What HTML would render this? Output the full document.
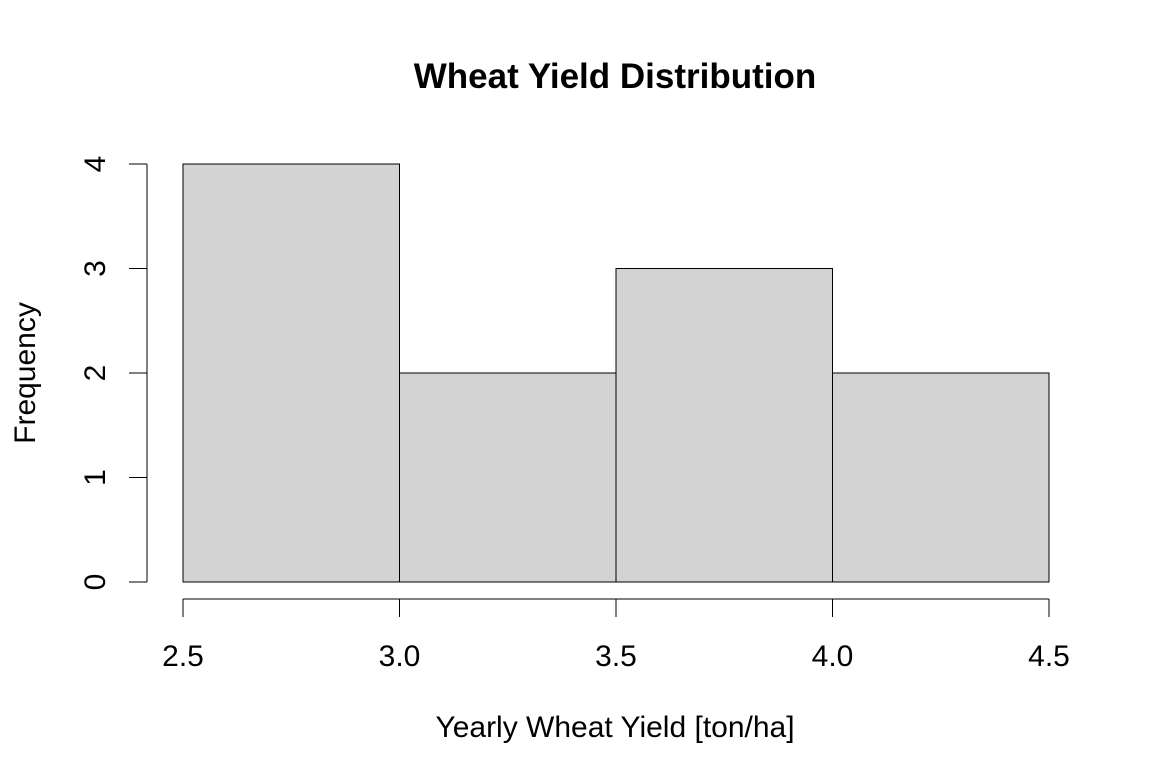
<!DOCTYPE html>
<html><head><meta charset="utf-8"><style>
html,body{margin:0;padding:0;background:#fff;}
svg{display:block;font-family:"Liberation Sans",Arial,sans-serif;}
</style></head><body>
<svg id="chart" width="1160" height="783" viewBox="0 0 1160 783">
<text x="615" y="88" text-anchor="middle" font-size="35" font-weight="bold">Wheat Yield Distribution</text>
<text x="615" y="737" text-anchor="middle" font-size="30">Yearly Wheat Yield [ton/ha]</text>
<text transform="translate(35,373) rotate(-90)" text-anchor="middle" font-size="30">Frequency</text>
<g id="bars"></g><g id="xaxis"></g><g id="yaxis"></g>
</svg>
<script>
const binEdges=[2.5,3.0,3.5,4.0,4.5];
const counts=[4,2,3,2];
const xTicks=[2.5,3.0,3.5,4.0,4.5];
const xTickLabels=["2.5","3.0","3.5","4.0","4.5"];
const yTicks=[0,1,2,3,4];
const yTickLabels=["0","1","2","3","4"];
const NS="http://www.w3.org/2000/svg";
function X(v){return 183+(v-2.5)*(1049-183)/2;}
function Y(v){return 582-v*(582-164)/4;}
function mk(t,a,p){const e=document.createElementNS(NS,t);for(const k in a)e.setAttribute(k,a[k]);p.appendChild(e);return e;}
const bars=document.getElementById('bars');
counts.forEach((c,i)=>{
 const r=mk('rect',{x:X(binEdges[i]),y:Y(c),width:X(binEdges[i+1])-X(binEdges[i]),height:Y(0)-Y(c),fill:'#d3d3d3',stroke:'#000','stroke-width':1},bars);
 
 
});
const xa=document.getElementById('xaxis');


mk('line',{x1:X(xTicks[0]),x2:X(xTicks[xTicks.length-1]),y1:599,y2:599,stroke:'#000'},xa);
xTicks.forEach((t,i)=>{
 mk('line',{x1:X(t),x2:X(t),y1:599,y2:617,stroke:'#000'},xa);
 const tx=mk('text',{x:X(t),y:666,'text-anchor':'middle','font-size':30},xa);
 tx.textContent=xTickLabels[i];
 
 
});
const ya=document.getElementById('yaxis');


mk('line',{x1:147,x2:147,y1:Y(yTicks[0]),y2:Y(yTicks[yTicks.length-1]),stroke:'#000'},ya);
yTicks.forEach((t,i)=>{
 mk('line',{x1:129,x2:147,y1:Y(t),y2:Y(t),stroke:'#000'},ya);
 const tx=mk('text',{transform:'translate(105,'+Y(t)+') rotate(-90)','text-anchor':'middle','font-size':30},ya);
 tx.textContent=yTickLabels[i];
 
 
});
</script>
</body></html>
